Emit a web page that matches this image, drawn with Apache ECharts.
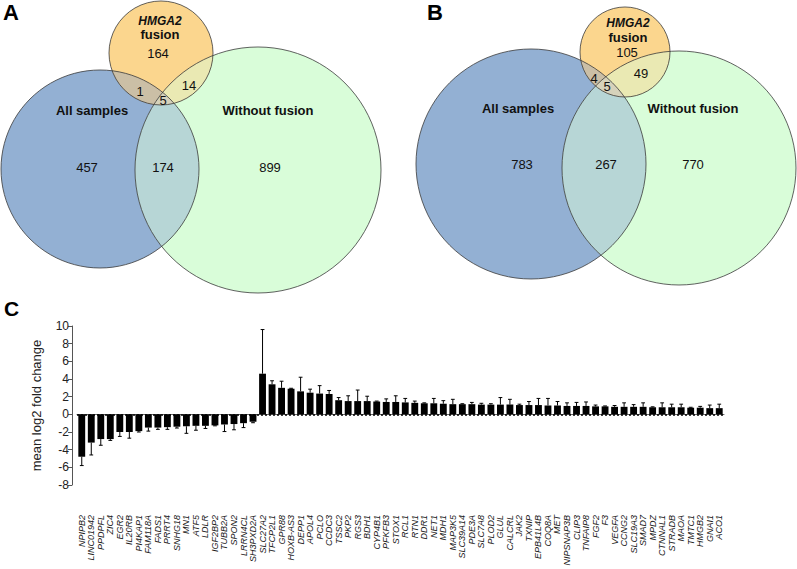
<!DOCTYPE html>
<html><head><meta charset="utf-8">
<script src="https://cdn.jsdelivr.net/npm/echarts@6/dist/echarts.min.js"></script>
<style>html,body{margin:0;padding:0;background:#fff}#c{width:797px;height:569px}</style>
</head><body><div id="c"></div>
<script>
// ---------- Venn data ----------
const vennSetNames = ['All samples', 'Without fusion', 'HMGA2', 'fusion'];
// circle geometry in panel units [cx, cy, r] for All samples, Without fusion, HMGA2 fusion
const vennACircles = [[100, 169, 99], [258, 170, 123], [161, 53, 52]];
const vennBCircles = [[531, 164, 115], [679, 168, 117], [625, 52, 45]];
// region counts: All only, Without only, Fusion only, All∩Without, All∩Fusion, Without∩Fusion, all three
const vennACounts = [457, 899, 164, 174, 1, 14, 5];
const vennBCounts = [783, 770, 105, 267, 4, 49, 5];
const vennACountPos = [[87, 167], [270, 167], [158, 53], [163, 167], [140, 91], [189, 85], [163, 100]];
const vennBCountPos = [[522, 164], [693, 164], [627, 52], [606, 164], [594, 78], [641, 73], [607, 86]];
const vennANamePos = [[92, 110], [268, 110], [160, 21], [160, 34]];
const vennBNamePos = [[518, 108], [693, 108], [628, 23], [628, 37]];

// ---------- Bar chart data ----------
const genes = ['NPIPB2','LINC01942','PPDPFL','ZIC4','EGR2','IL20RB','PI4KAP1','FAM118A','FADS1','PRRT4',
  'SNHG18','MN1','ATF5','LDLR','IGF2BP2','TUBB2A','SPON2','LRRN4CL','SH3PXD2A','SLC27A2',
  'TFCP2L1','GPR88','HOXB-AS3','DEPP1','APOL4','PCLO','CCDC3','TSSC2','PKP2','RGS3',
  'BDH1','CYP4B1','PFKFB3','STOX1','RCL1','RTN1','DDR1','NET1','MDH1','MAP3K5',
  'SLC39A14','PDE3A','SLC7A8','PLOD2','GLUL','CALCRL','JAK2','TXNIP','EPB41L4B','COQ8A',
  'MET','NIPSNAP3B','CLIP3','TNFAIP8','FGF2','F3','VEGFA','CCNG2','SLC19A3','SMAD7',
  'MPDZ','CTNNAL1','STRADB','MAOA','TMTC1','HMGB2','GNAI1','ACO1'];
const meanLog2FC = [-4.8,-3.2,-2.8,-2.8,-2.0,-2.0,-1.9,-1.5,-1.5,-1.45,
  -1.4,-1.35,-1.3,-1.3,-1.25,-1.15,-1.1,-1.0,-0.85,4.6,
  3.4,3.0,2.9,2.6,2.45,2.35,2.3,1.6,1.5,1.5,
  1.5,1.45,1.4,1.4,1.35,1.3,1.25,1.25,1.2,1.15,
  1.15,1.15,1.1,1.1,1.1,1.1,1.05,1.05,1.05,1.0,
  1.0,0.95,0.95,0.95,0.9,0.9,0.85,0.85,0.85,0.85,
  0.8,0.8,0.8,0.8,0.75,0.75,0.7,0.7];
const errFC = [1.0,1.4,0.7,0.15,0.5,0.7,0.1,0.4,0.2,0.25,
  0.15,0.8,0.5,0.3,0.05,0.8,0.65,0.5,0.1,5.0,
  0.4,0.75,0.05,1.6,0.4,0.9,0.4,0.3,0.6,1.25,
  0.55,0.05,0.35,0.7,0.45,0.2,0.05,0.55,0.35,0.55,
  0.05,0.2,0.15,0.1,0.8,0.6,0.1,0.4,0.75,0.8,
  0.45,0.35,0.4,0.45,0.15,0.05,0.15,0.45,0.25,0.45,
  0.05,0.5,0.35,0.35,0.05,0.15,0.35,0.45];
const yTicks = { min: -8, max: 10, interval: 2 };

const COL = {
  all: '#93b0d3', without: '#d9fdd9', fusion: '#fbd68e',
  allWithout: '#b7d6d6', allFusion: '#cbbfa6', withoutFusion: '#eae9b3', triple: '#d6d2bb'
};
const FONT = 'Arial, "Liberation Sans", sans-serif';

function vennRender(circles, counts, countPos, namePos) {
  return function (params, api) {
    const c = circles.map(([x, y, r]) => {
      const p = api.coord([x, y]);
      return { cx: p[0], cy: p[1], r: api.size([r, 0])[0] };
    });
    const [A, B, C] = c;
    const disc = (shape, color, clip) => {
      const el = { type: 'circle', shape: shape, style: { fill: color } };
      if (clip) el.clipPath = { type: 'circle', shape: clip };
      return el;
    };
    const children = [
      disc(A, COL.all), disc(B, COL.without), disc(C, COL.fusion),
      disc(B, COL.allWithout, A), disc(C, COL.allFusion, A), disc(C, COL.withoutFusion, B),
      { type: 'group', clipPath: { type: 'circle', shape: A }, children: [disc(C, COL.triple, B)] }
    ];
    c.forEach(s => children.push({ type: 'circle', shape: s, style: { fill: 'none', stroke: '#3a3a3a', lineWidth: 0.8 } }));
    const txt = (p, text, font) => ({ type: 'text', x: p[0], y: p[1], style: {
      text: text, font: font, fill: '#111', align: 'center', verticalAlign: 'middle',
      textAlign: 'center', textVerticalAlign: 'middle' } });
    counts.forEach((n, i) => children.push(txt(api.coord(countPos[i]), String(n), '13px ' + FONT)));
    vennSetNames.forEach((name, i) => {
      const font = i === 2 ? 'italic bold 12px ' + FONT : 'bold 13px ' + FONT;
      children.push(txt(api.coord(namePos[i]), name, font));
    });
    return { type: 'group', children: children };
  };
}

const chart = echarts.init(document.getElementById('c'), null, { renderer: 'svg' });
const hiddenAxis = (grid, min, max, inverse) => ({ type: 'value', gridIndex: grid, min: min, max: max, inverse: !!inverse, show: false });

chart.setOption({
  animation: false,
  backgroundColor: '#fff',
  title: [
    { text: 'A', left: 3, top: 1, padding: 0, textStyle: { fontFamily: FONT, fontSize: 22, fontWeight: 'bold', color: '#000' } },
    { text: 'B', left: 427, top: 1, padding: 0, textStyle: { fontFamily: FONT, fontSize: 22, fontWeight: 'bold', color: '#000' } },
    { text: 'C', left: 4, top: 298, padding: 0, textStyle: { fontFamily: FONT, fontSize: 21, fontWeight: 'bold', color: '#000' } }
  ],
  grid: [
    { left: 0, top: 0, width: 400, height: 300 },
    { left: 400, top: 0, width: 397, height: 300 },
    { left: 77, right: 73, top: 326, height: 159 }
  ],
  xAxis: [
    hiddenAxis(0, 0, 400),
    hiddenAxis(1, 400, 797),
    {
      type: 'category', gridIndex: 2, data: genes, position: 'bottom', offset: 26,
      axisLine: { lineStyle: { color: '#666', width: 1 } },
      axisTick: { length: 4, lineStyle: { color: '#666' } },
      axisLabel: { interval: 0, rotate: 90, fontSize: 9, fontStyle: 'italic', fontFamily: FONT, color: '#1a1a1a', margin: 4 }
    }
  ],
  yAxis: [
    hiddenAxis(0, 0, 300, true),
    hiddenAxis(1, 0, 300, true),
    {
      type: 'value', gridIndex: 2, min: yTicks.min, max: yTicks.max, interval: yTicks.interval, offset: 5,
      name: 'mean log2 fold change', nameLocation: 'middle', nameGap: 29, nameRotate: 90,
      nameTextStyle: { fontFamily: FONT, fontSize: 13, color: '#222' },
      axisLine: { show: true, lineStyle: { color: '#555', width: 1 } },
      axisTick: { show: true, length: 4, lineStyle: { color: '#555' } },
      axisLabel: { fontFamily: FONT, fontSize: 12, color: '#222', margin: 3 },
      splitLine: { show: false }
    }
  ],
  series: [
    { type: 'custom', xAxisIndex: 0, yAxisIndex: 0, clip: false, silent: true, data: [[0, 0]],
      renderItem: vennRender(vennACircles, vennACounts, vennACountPos, vennANamePos) },
    { type: 'custom', xAxisIndex: 1, yAxisIndex: 1, clip: false, silent: true, data: [[400, 0]],
      renderItem: vennRender(vennBCircles, vennBCounts, vennBCountPos, vennBNamePos) },
    {
      type: 'bar', xAxisIndex: 2, yAxisIndex: 2, data: meanLog2FC, barWidth: '72%', silent: true,
      itemStyle: { color: '#000' },
      markLine: { silent: true, symbol: 'none', label: { show: false },
        lineStyle: { type: [2, 2], color: '#000', width: 1.5 }, data: [{ yAxis: 0 }] }
    },
    {
      type: 'custom', xAxisIndex: 2, yAxisIndex: 2, silent: true, z: 3,
      data: genes.map((g, i) => [i, meanLog2FC[i], errFC[i]]),
      encode: { x: 0, y: 1 },
      renderItem: function (params, api) {
        const i = api.value(0), v = api.value(1), e = api.value(2);
        const end = v < 0 ? v - e : v + e;
        const p0 = api.coord([i, v]), p1 = api.coord([i, end]);
        const hw = api.size([1, 0])[0] * 0.2;
        return { type: 'group', children: [
          { type: 'line', shape: { x1: p0[0], y1: p0[1], x2: p1[0], y2: p1[1] }, style: { stroke: '#000', lineWidth: 1 } },
          { type: 'line', shape: { x1: p1[0] - hw, y1: p1[1], x2: p1[0] + hw, y2: p1[1] }, style: { stroke: '#000', lineWidth: 1 } }
        ] };
      }
    }
  ]
});
</script></body></html>
